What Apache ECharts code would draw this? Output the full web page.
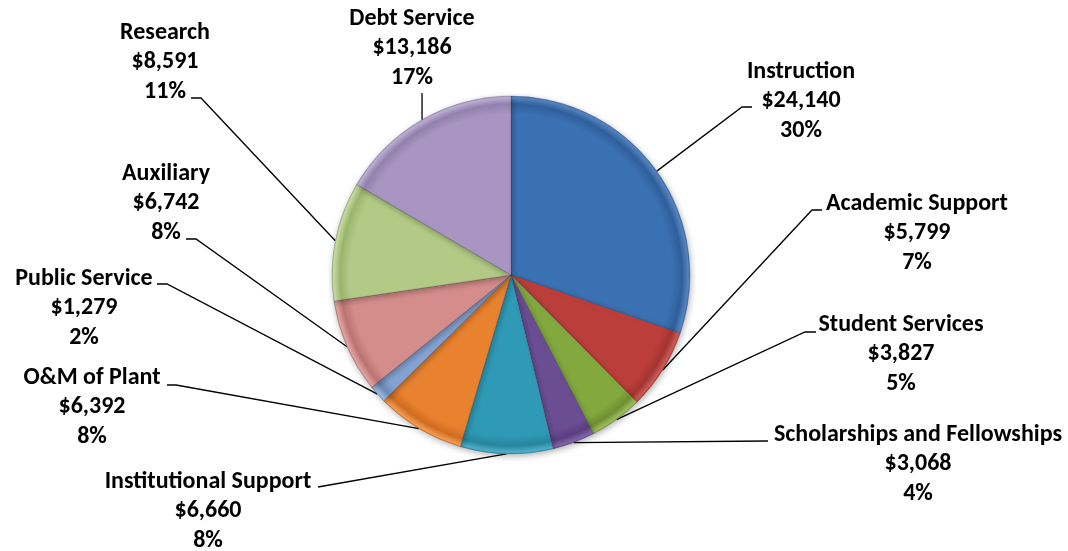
<!DOCTYPE html>
<html>
<head>
<meta charset="utf-8">
<script src="https://cdn.jsdelivr.net/npm/echarts@6/dist/echarts.min.js"></script>
<style>
  html, body { margin: 0; padding: 0; background: #fff; }
  #chart { width: 1068px; height: 551px; }
</style>
</head>
<body>
<div id="chart"></div>
<script>
// Expense categories, clockwise from twelve o'clock
const categories = [
  'Instruction', 'Academic Support', 'Student Services',
  'Scholarships and Fellowships', 'Institutional Support', 'O&M of Plant',
  'Public Service', 'Auxiliary', 'Research', 'Debt Service'
];
// Amounts in thousands of dollars
const amounts = [24140, 5799, 3827, 3068, 6660, 6392, 1279, 6742, 8591, 13186];

// Slice colours: [edge, body, highlight]
const sliceColors = [
  ['#2f5f9a', '#3a71b3', '#5583bf'],
  ['#a33431', '#bb3e3b', '#cc5a57'],
  ['#708f31', '#83a83e', '#9bbb5c'],
  ['#5a3e80', '#6b4d94', '#8166a6'],
  ['#27859e', '#2f9ab6', '#50afc8'],
  ['#d06c20', '#e9822f', '#f29b55'],
  ['#6a89b9', '#83a2d2', '#9db9de'],
  ['#bc7371', '#d48d8b', '#e0a3a1'],
  ['#9bb46d', '#b2ca86', '#c6dba0'],
  ['#9281ac', '#a895c1', '#bcadd3']
];

// Label block placement (centre of middle line) and leader-line bends
const labelSpots = [
  { x: 801, y: 101, bend: [742, 107], end: [752, 107] },
  { x: 917, y: 233, bend: [812, 210], end: [822, 210] },
  { x: 901, y: 354, bend: [805, 332], end: [816, 332] },
  { x: 918, y: 464, bend: [768, 441], end: [768, 441] },
  { x: 208, y: 511, bend: [318, 487], end: [318, 487] },
  { x: 92,  y: 407, bend: [176, 385], end: [167, 385] },
  { x: 84,  y: 308, bend: [167, 284], end: [157, 284] },
  { x: 166, y: 203, bend: [196, 239], end: [186, 239] },
  { x: 165, y: 62,  bend: [201, 98],  end: [191, 98] },
  { x: 412, y: 48,  bend: [422, 93],  end: [422, 93] }
];

const CX = 511, CY = 275, R = 179;

// Soft bevelled rim on each slice
function sliceFill(c) {
  return new echarts.graphic.RadialGradient(CX, CY, R, [
    { offset: 0, color: c[1] },
    { offset: 0.9, color: c[1] },
    { offset: 0.955, color: c[0] },
    { offset: 0.99, color: c[2] },
    { offset: 1, color: c[1] }
  ], true);
}

const pieData = categories.map((name, i) => ({
  name: name,
  value: amounts[i],
  itemStyle: { color: sliceFill(sliceColors[i]) }
}));

const chart = echarts.init(document.getElementById('chart'), null, { renderer: 'canvas' });

chart.setOption({
  backgroundColor: '#ffffff',
  animation: false,
  series: [{
    type: 'pie',
    center: [CX, CY],
    radius: R,
    startAngle: 90,
    clockwise: true,
    avoidLabelOverlap: false,
    percentPrecision: 0,
    data: pieData,
    itemStyle: {
      borderColor: 'rgba(40,40,60,0.22)',
      borderWidth: 1,
      shadowColor: 'rgba(0,0,0,0.3)',
      shadowBlur: 6,
      shadowOffsetX: 1,
      shadowOffsetY: 2
    },
    label: {
      show: true,
      position: 'outside',
      formatter: p => p.name + '\n$' + p.value.toLocaleString('en-US') + '\n' + p.percent + '%',
      fontFamily: 'Carlito, Lato, sans-serif',
      fontWeight: 'bold',
      fontSize: 24,
      lineHeight: 29.5,
      color: '#000',
      align: 'center'
    },
    labelLine: {
      show: true,
      lineStyle: { color: '#000', width: 1.3 }
    },
    labelLayout: function (p) {
      const s = labelSpots[p.dataIndex];
      const start = p.labelLinePoints ? p.labelLinePoints[0] : s.bend;
      return {
        x: s.x,
        y: s.y,
        align: 'center',
        verticalAlign: 'middle',
        labelLinePoints: [start, s.bend, s.end]
      };
    }
  }]
});
</script>
</body>
</html>
